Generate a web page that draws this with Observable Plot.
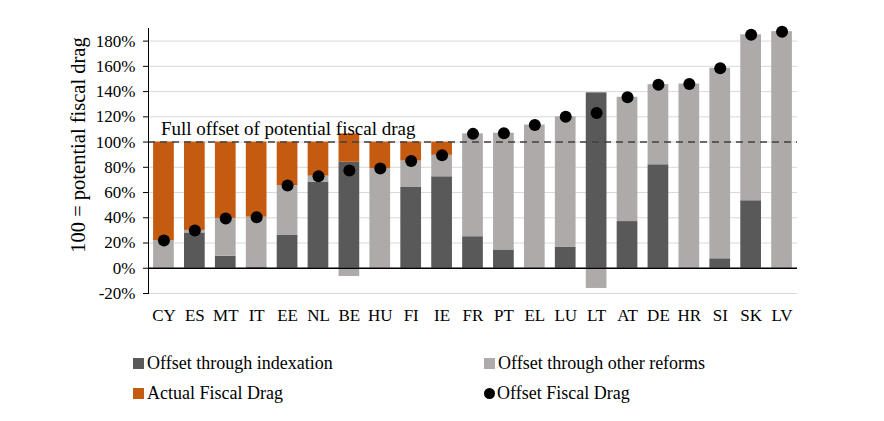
<!DOCTYPE html>
<html><head><meta charset="utf-8">
<script src="https://cdn.jsdelivr.net/npm/d3@7"></script>
<script src="https://cdn.jsdelivr.net/npm/@observablehq/plot@0.6"></script>
<style>
body{margin:0;background:#fff;font-family:"Liberation Serif","Times New Roman",serif;color:#000;}
#wrap{position:relative;width:884px;height:421px;overflow:hidden;}
#chart{position:absolute;left:0;top:0;}
#ytitle{position:absolute;left:78px;top:145px;transform:translate(-50%,-50%) rotate(-90deg);white-space:nowrap;font-size:20.5px;}
.lg{position:absolute;display:flex;align-items:center;font-size:18px;line-height:20px;white-space:nowrap;}
.sw{width:11px;height:11px;margin-right:3px;}
.dotsw{width:11px;height:11px;border-radius:50%;background:#000;margin-right:2px;}
</style></head><body>
<div id="wrap">
<div id="chart"></div>
<div id="ytitle">100 = potential fiscal drag</div>
<div id="legend"></div>
</div>
<script>
const countries = ["CY","ES","MT","IT","EE","NL","BE","HU","FI","IE","FR","PT","EL","LU","LT","AT","DE","HR","SI","SK","LV"];
const indexation   = [0, 28, 9.5, 1, 26, 68, 84, 0, 64, 72.5, 25, 14.5, 0, 16.5, 139, 37, 82, 0, 7.5, 53.5, 0];
const otherReforms = [22, 2, 30, 39.5, 39.5, 5, -6.5, 79, 21, 17, 81.5, 92.5, 113.5, 103.5, -16, 98.5, 63.5, 146, 151, 131.5, 187.5];
const actualDrag   = [78, 70, 60.5, 59.5, 34.5, 27, 22.5, 21, 15, 10.5, 0, 0, 0, 0, 0, 0, 0, 0, 0, 0, 0];
const offsetDrag   = [22, 30, 39.5, 40.5, 65.5, 73, 77.5, 79, 85, 89.5, 106.5, 107, 113.5, 120, 123, 135.5, 145.5, 146, 158.5, 185, 187.5];
const seriesNames  = ["Offset through indexation","Offset through other reforms","Actual Fiscal Drag"];
const seriesColors = ["#595959","#AEAAAA","#C55A11"];
const dotLabel     = "Offset Fiscal Drag";
const refLabel     = "Full offset of potential fiscal drag";
const yTicks       = [-20, 0, 20, 40, 60, 80, 100, 120, 140, 160, 180];
const refValue     = 100;

const seriesValues = [indexation, otherReforms, actualDrag];
const rows = [];
countries.forEach((c, i) => {
  seriesNames.forEach((s, k) => rows.push({country: c, series: s, value: seriesValues[k][i]}));
});

const font = '"Liberation Serif","Times New Roman",serif';
const chart = Plot.plot({
  width: 884, height: 330,
  marginLeft: 148, marginRight: 87, marginTop: 28, marginBottom: 37,
  style: {fontFamily: font, fontSize: "17px", color: "#000", background: "transparent"},
  x: {domain: countries, paddingInner: 0.33, paddingOuter: 0.165, round: false, label: null},
  y: {domain: [-20, 190], label: null},
  color: {domain: seriesNames, range: seriesColors},
  marks: [
    Plot.gridY(yTicks, {stroke: "#d9d9d9", strokeOpacity: 1}),
    Plot.barY(rows, Plot.stackY({x: "country", y: "value", fill: "series", order: seriesNames})),
    Plot.ruleY([0], {stroke: "#000", strokeWidth: 1.3}),
    Plot.ruleY([refValue], {stroke: "#404040", strokeWidth: 1.5, strokeDasharray: "7,5"}),
    Plot.text([refLabel], {x: () => countries[0], y: () => refValue, text: d => d, textAnchor: "start", lineAnchor: "bottom", dx: -3, dy: -7, fontSize: 19, fill: "#000"}),
    Plot.dot(countries, {x: d => d, y: (d, i) => offsetDrag[i], r: 6, fill: "#000", stroke: "none"}),
    Plot.axisY(yTicks, {tickFormat: d => d + "%", tickSize: 5, tickPadding: 8, label: null, fontSize: 17}),
    Plot.axisX({tickSize: 0, tickPadding: 15, label: null, fontSize: 17}),
    Plot.frame({anchor: "left", stroke: "#000"})
  ]
});
document.getElementById("chart").append(chart);

const legendItems = [
  {label: seriesNames[0], color: seriesColors[0], left: 133, top: 353, dot: false},
  {label: seriesNames[1], color: seriesColors[1], left: 484, top: 353, dot: false},
  {label: seriesNames[2], color: seriesColors[2], left: 133, top: 383, dot: false},
  {label: dotLabel, color: "#000", left: 484, top: 383, dot: true}
];
const lg = document.getElementById("legend");
legendItems.forEach(it => {
  const d = document.createElement("div");
  d.className = "lg";
  d.style.left = it.left + "px";
  d.style.top = it.top + "px";
  const s = document.createElement("span");
  s.className = it.dot ? "dotsw" : "sw";
  s.style.background = it.color;
  d.append(s);
  const t = document.createElement("span");
  t.textContent = it.label;
  d.append(t);
  lg.append(d);
});
</script>
</body></html>
